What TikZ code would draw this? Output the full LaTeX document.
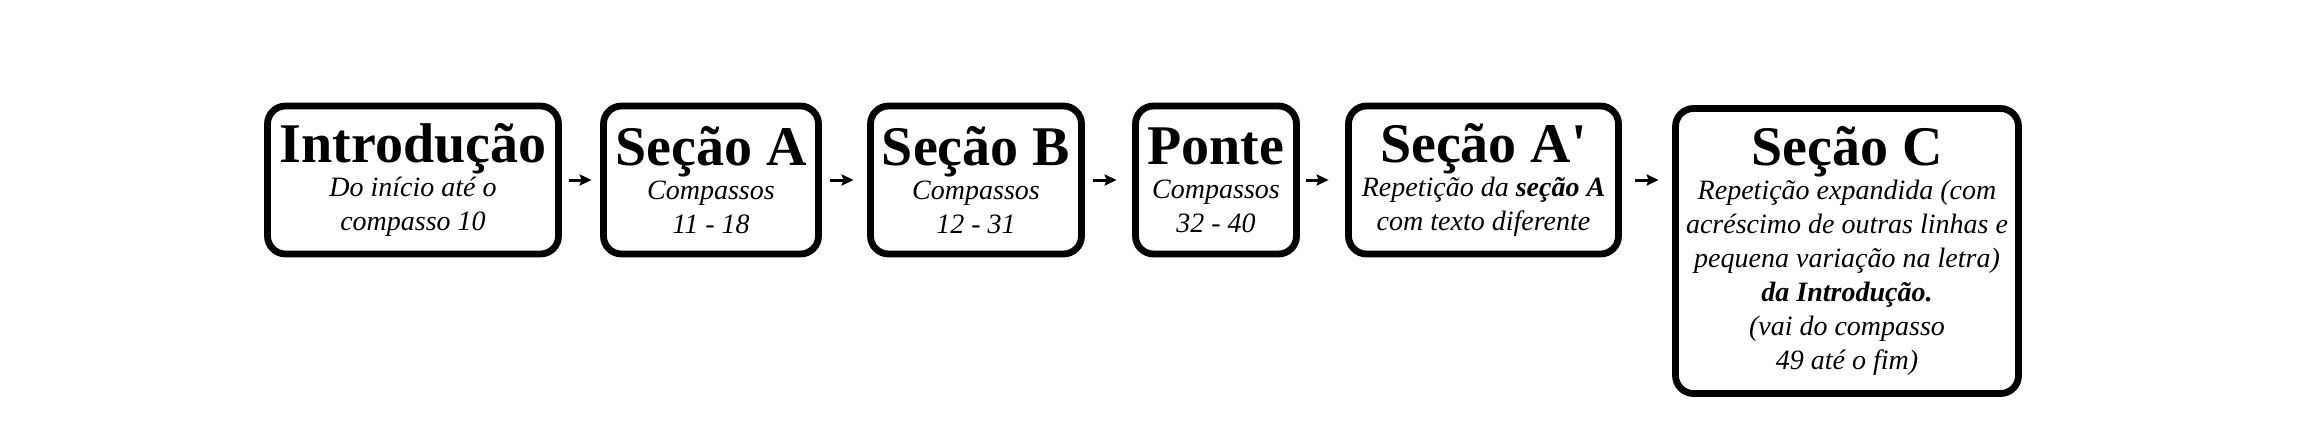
\documentclass[tikz,border=0pt]{standalone}
\usepackage{fontspec}
\setmainfont{Liberation Serif}
\newfontfamily\qfont{Liberation Serif}[Ligatures=TeXOff]
\usetikzlibrary{arrows.meta}
\newcommand\subf{\itshape\fontsize{14}{17}\selectfont}
\newcommand\ttl{\bfseries\upshape\fontsize{28}{30}\selectfont}
\tikzset{
  secbox/.style={draw=black, line width=3.4pt, rounded corners=9pt, align=center,
    inner sep=0pt, font=\subf, minimum height=74pt},
  conn/.style={line width=1.5pt, -{Stealth[length=6pt,width=5.5pt,inset=1pt]}},
}
\begin{document}
\begin{tikzpicture}[x=0.5pt,y=-0.5pt]
\useasboundingbox[fill=white] (0,0) rectangle (2297,428);
\node[secbox, minimum width=145.5pt] (b1) at (413,180)
  {{\ttl Introdução}\\Do início até o\\compasso 10};
\node[secbox, minimum width=107.5pt] (b2) at (711,180)
  {{\ttl Seção A}\\Compassos\\11 - 18};
\node[secbox, minimum width=105.5pt] (b3) at (976,180)
  {{\ttl Seção B}\\Compassos\\12 - 31};
\node[secbox, minimum width=80.5pt] (b4) at (1216,180)
  {{\ttl Ponte}\\Compassos\\32 - 40};
\node[secbox, minimum width=135pt] (b5) at (1483.5,180)
  {{\ttl Seção A{\qfont\bfseries\upshape '}}\\Repetição da \textbf{seção A}\\com texto diferente};
\node[secbox, minimum width=171.5pt, minimum height=142.5pt] (b6) at (1847,251)
  {{\ttl Seção C}\\Repetição expandida (com\\acréscimo de outras linhas e\\pequena variação na letra)\\\textbf{da Introdução.}\\(vai do compasso\\49 até o fim)};
\draw[conn, shorten <=3.75pt, shorten >=4.25pt] (b1.east) -- (b2.west);
\draw[conn, shorten <=4.25pt, shorten >=6.75pt] (b2.east) -- (b3.west);
\draw[conn, shorten <=4.25pt, shorten >=7.75pt] (b3.east) -- (b4.west);
\draw[conn, shorten <=3.25pt, shorten >=8.25pt] (b4.east) -- (b5.west);
\draw[conn, shorten <=6.75pt, shorten >=6.75pt] (b5.east) -- (b5.east -| b6.west);
\end{tikzpicture}
\end{document}
